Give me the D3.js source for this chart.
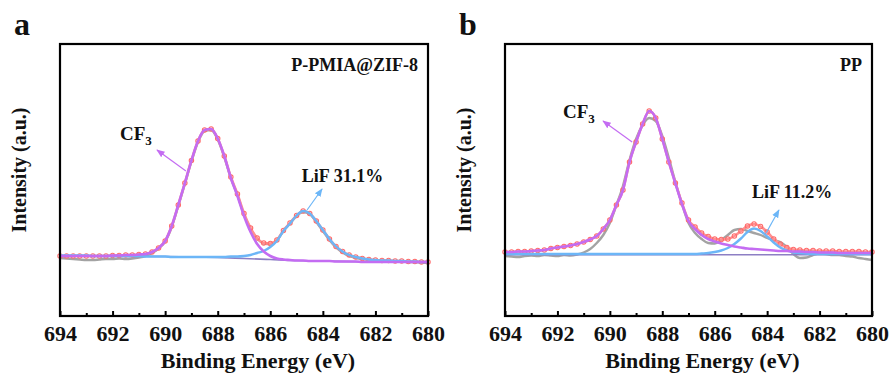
<!DOCTYPE html>
<html>
<head>
<meta charset="utf-8">
<script src="https://cdn.jsdelivr.net/npm/d3@7"></script>
<style>
body { margin: 0; background: #fff; }
svg text { font-family: "Liberation Serif", "Times New Roman", Times, serif; font-weight: bold; fill: #111; }
</style>
</head>
<body>
<svg width="893" height="379" font-family="Liberation Serif"></svg>
<script>
// binding energy grid (eV)
var energy = [694,693.75,693.5,693.25,693,692.75,692.5,692.25,692,691.75,691.5,691.25,691,690.75,690.5,690.25,
  690,689.75,689.5,689.25,689,688.75,688.5,688.25,688,687.75,687.5,687.25,687,686.75,686.5,686.25,
  686,685.75,685.5,685.25,685,684.75,684.5,684.25,684,683.75,683.5,683.25,683,682.75,682.5,682.25,
  682,681.75,681.5,681.25,681,680.75,680.5,680.25,680];

// panel a : P-PMIA@ZIF-8
var rawA = [4,3.5,3,2.5,2,2,2.5,3,3,3.5,3,3.5,4.5,6,9,13.5,
  20.5,35,56,78,100.5,120,131,132,122.5,105,84,67,47.5,33,23.5,18.5,
  18,21.5,31,38.5,46,50,48,40,31,22,14.5,9.5,6,4,3,2,
  1.5,1,1,0.5,0.5,0,0,-0.5,-1];
var sumA = [6,6,6,6,6,6,6,6,6.5,6.5,7,7,7.5,8,10,14,
  21,36,57,79,101.5,121,132,133,123.5,106,85,68,48.5,34,24,19,
  18.5,22,31.5,39,46.5,51,48.5,41,32,23,15.5,10.5,7,5,3.5,2.5,
  2,1.5,1.5,1,1,0.5,0.5,0,0];
var cf3A = [6,6,6,6,6,6,6,6,6.5,6.5,7,7,7.5,8,10,14,
  21,36,57,79,101.5,121,132,133,123.5,106,84,66,46,30,18,10.5,
  6,3.5,2.5,2,1.5,1.5,1,1,1,1,0.5,0.5,0.5,0.5,0,0,
  0,0,0,0,0,0,0,0,0];
var lifA = [6.5,6.5,6.5,6.5,6.5,6,6,6,6,6,6,6,6,5.5,5.5,5.5,
  5.5,5,5,5,5,5,5,5,5,5,5.5,5.5,6,7,9,11,
  15,21,31,38.5,46.5,51,48.5,41,32,23,15.5,10.5,7,5,3.5,2.5,
  2,1.5,1.5,1,1,0.5,0.5,0,0];
var bgEnergyA = [694,690,688,687,686,685,684,682,680];
var bgA = [6,5.5,4.5,3.5,2.5,1.5,1,0,-0.5];

// panel b : PP
var rawB = [-2,-2.5,-3,-2,-1.5,-2,-1,-1.5,-2,-1,-1.5,-0.5,1.5,5,11,19,
  31,49,68,94,115,129,136,133,118,96,72,50,31,21,15,11,
  10.5,14,19,24,25,23,21,19,16,14,12,7,0,-4,-3.5,-1,
  0.5,0,-1,-1,-2,-2.5,-4,-5,-6];
var sumB = [2,2,2.5,2.5,3,3.5,4,5.5,6.5,7.5,8.5,10,12,14.5,18,25,
  34,49,64,92,112,130,143,136,115,92,71,51,34,27,21,17.5,
  15,14.5,15,18,23,28,30,27.5,22,15,10,6.5,4.5,4,3.5,3.5,
  3,3,3,2.5,2.5,2.5,2.5,2,2];
var cf3B = [2,2,2.5,2.5,3,3.5,4,5.5,6.5,7.5,8.5,10,12,14.5,18,25,
  34,49,64,92,112,130,143,136,115,92,70.5,50,33,25,19,15,
  12.5,10.5,9,7.5,6.5,5.5,5,4.5,4,3.5,3,3,2.5,2.5,2,2,
  1.5,1.5,1.5,1,1,1,1,1,1];
var lifB = [0,0,0,0,0,0,0,0,0,0,0,0,0,0,0,0,
  0,0,0,0,0,0,0,0,0,0,0,0,0,0,0.5,1,
  2,3.5,6,10,15.5,22,25.5,23,17.5,11.5,6.5,3.5,1.5,1,0.5,0,
  0,0,0,0,0,0,0,0,0];
var bgEnergyB = [694,680];
var bgB = [-0.7,-0.7];

var majorTicks = [694,692,690,688,686,684,682,680];
var minorTicks = [693,691,689,687,685,683,681];

var panels = [
  { letter: "a", left: 60, right: 428, yDomain: [-54, 218], name: "P-PMIA@ZIF-8",
    raw: rawA, sum: sumA, cf3: cf3A, lif: lifA, bgE: bgEnergyA, bg: bgA,
    cf3Label: [691.72, 122], cf3Arrow: [[689.21, 91], [690.31, 112]],
    lifText: "LiF 31.1%", lifLabel: [684.8, 80], lifArrow: [[684.6, 52], [684.03, 73]] },
  { letter: "b", left: 505, right: 872, yDomain: [-62, 210], name: "PP",
    raw: rawB, sum: sumB, cf3: cf3B, lif: lifB, bgE: bgEnergyB, bg: bgB,
    cf3Label: [691.79, 136], cf3Arrow: [[689.15, 112], [690.26, 133]],
    lifText: "LiF 11.2%", lifLabel: [684.58, 56], lifArrow: [[684.04, 21], [683.55, 44]] }
];

var plotTop = 44, plotBottom = 316;
var serif = "'Liberation Serif', 'Times New Roman', Times, serif";
var svg = d3.select("svg");

var defs = svg.append("defs");
[["purple", "#c46cf2"], ["blue", "#6cb6f7"]].forEach(function(m) {
  defs.append("marker")
    .attr("id", "arrow-" + m[0])
    .attr("viewBox", "0 0 10 10")
    .attr("refX", 9).attr("refY", 5)
    .attr("markerWidth", 7).attr("markerHeight", 7)
    .attr("orient", "auto")
    .append("path")
    .attr("d", "M0,1 L10,5 L0,9 Z")
    .attr("fill", m[1]);
});

panels.forEach(function(p) {
  var x = d3.scaleLinear().domain([694, 680]).range([p.left, p.right]);
  var y = d3.scaleLinear().domain(p.yDomain).range([plotBottom, plotTop]);
  var g = svg.append("g");

  var line = d3.line()
    .x(function(d) { return x(d[0]); })
    .y(function(d) { return y(d[1]); })
    .curve(d3.curveMonotoneX);
  function pairs(xs, ys) { return xs.map(function(e, i) { return [e, ys[i]]; }); }

  // raw data
  g.append("path").datum(pairs(energy, p.raw))
    .attr("d", line).attr("fill", "none")
    .attr("stroke", "#a3a3a3").attr("stroke-width", 2.4);

  // envelope (open circles)
  g.append("path").datum(pairs(energy, p.sum))
    .attr("d", line).attr("fill", "none")
    .attr("stroke", "#ff9090").attr("stroke-width", 2.6);
  g.append("g").selectAll("circle")
    .data(pairs(energy, p.sum))
    .enter().append("circle")
    .attr("cx", function(d) { return x(d[0]); })
    .attr("cy", function(d) { return y(d[1]); })
    .attr("r", 2.2)
    .attr("fill", "none")
    .attr("stroke", "#ff6b6b")
    .attr("stroke-width", 1.1);

  // background
  g.append("path").datum(pairs(p.bgE, p.bg))
    .attr("d", line).attr("fill", "none")
    .attr("stroke", "#8d7fc4").attr("stroke-width", 1.6);

  // LiF component
  g.append("path").datum(pairs(energy, p.lif))
    .attr("d", line).attr("fill", "none")
    .attr("stroke", "#6cb6f7").attr("stroke-width", 2.4);

  // CF3 component
  g.append("path").datum(pairs(energy, p.cf3))
    .attr("d", line).attr("fill", "none")
    .attr("stroke", "#c46cf2").attr("stroke-width", 2.6);

  // frame
  g.append("rect")
    .attr("x", p.left).attr("y", plotTop)
    .attr("width", p.right - p.left).attr("height", plotBottom - plotTop)
    .attr("fill", "none").attr("stroke", "#000").attr("stroke-width", 2.2);

  // bottom axis, ticks pointing in
  var ax = g.append("g").attr("transform", "translate(0," + plotBottom + ")")
    .call(d3.axisBottom(x).tickValues(majorTicks).tickSize(-5).tickPadding(9)
      .tickFormat(d3.format("d")));
  ax.select(".domain").remove();
  ax.attr("font-family", serif).attr("font-size", 22);
  ax.selectAll("line").attr("stroke", "#000").attr("stroke-width", 2);
  ax.selectAll("text").attr("font-size", 22).attr("font-weight", "bold");

  var mx = g.append("g").attr("transform", "translate(0," + plotBottom + ")")
    .call(d3.axisBottom(x).tickValues(minorTicks).tickSize(-3).tickFormat(""));
  mx.select(".domain").remove();
  mx.selectAll("line").attr("stroke", "#000").attr("stroke-width", 2);

  // axis titles
  g.append("text")
    .attr("x", (p.left + p.right) / 2 + 14).attr("y", 368)
    .attr("text-anchor", "middle").attr("font-size", 22)
    .text("Binding Energy (eV)");
  g.append("text")
    .attr("transform", "translate(" + (p.left - 34) + "," + 170 + ") rotate(-90)")
    .attr("text-anchor", "middle").attr("font-size", 20)
    .text("Intensity (a.u.)");

  // panel letter and sample name
  g.append("text")
    .attr("x", p.left - 46).attr("y", 35)
    .attr("font-size", 32)
    .text(p.letter);
  g.append("text")
    .attr("x", p.right - 10).attr("y", 71)
    .attr("text-anchor", "end").attr("font-size", 18)
    .text(p.name);

  // CF3 label and arrow
  var cf = g.append("text")
    .attr("x", x(p.cf3Label[0])).attr("y", y(p.cf3Label[1]))
    .attr("font-size", 19);
  cf.append("tspan").text("CF");
  cf.append("tspan").attr("font-size", 13).attr("dy", 5).text("3");
  g.append("line")
    .attr("x1", x(p.cf3Arrow[0][0])).attr("y1", y(p.cf3Arrow[0][1]))
    .attr("x2", x(p.cf3Arrow[1][0])).attr("y2", y(p.cf3Arrow[1][1]))
    .attr("stroke", "#c46cf2").attr("stroke-width", 1.2)
    .attr("marker-end", "url(#arrow-purple)");

  // LiF label and arrow
  g.append("text")
    .attr("x", x(p.lifLabel[0])).attr("y", y(p.lifLabel[1]))
    .attr("font-size", 18)
    .text(p.lifText);
  g.append("line")
    .attr("x1", x(p.lifArrow[0][0])).attr("y1", y(p.lifArrow[0][1]))
    .attr("x2", x(p.lifArrow[1][0])).attr("y2", y(p.lifArrow[1][1]))
    .attr("stroke", "#6cb6f7").attr("stroke-width", 1.2)
    .attr("marker-end", "url(#arrow-blue)");
});
</script>
</body>
</html>
